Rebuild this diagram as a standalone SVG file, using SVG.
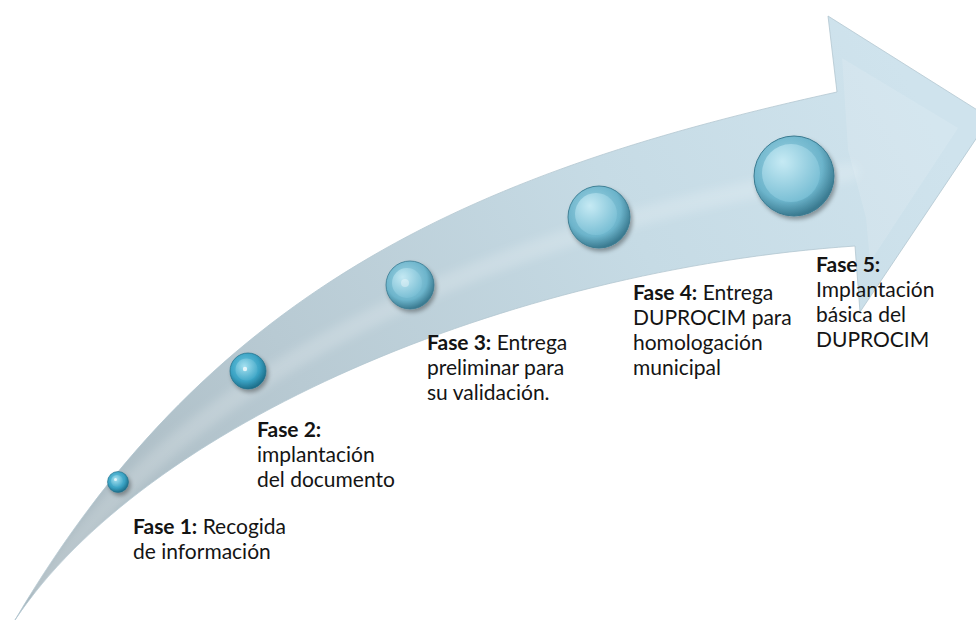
<svg xmlns="http://www.w3.org/2000/svg" width="976" height="622" viewBox="0 0 976 622">
<style>
.lbl{font-family:Lato,"Open Sans","Liberation Sans",sans-serif;font-size:21px;fill:#141414}
.b{font-weight:bold}
</style>
<defs>
<linearGradient id="arrowGrad" gradientUnits="userSpaceOnUse" x1="15" y1="620" x2="930" y2="120">
<stop offset="0" stop-color="#a6b5bc"/>
<stop offset="0.35" stop-color="#b8cad3"/>
<stop offset="0.7" stop-color="#c6dbe5"/>
<stop offset="1" stop-color="#cfe3ed"/>
</linearGradient>
<radialGradient id="rimA" cx="0.42" cy="0.38" r="0.62">
<stop offset="0" stop-color="#74cbe3"/>
<stop offset="0.65" stop-color="#3aa2c3"/>
<stop offset="1" stop-color="#1d6f8b"/>
</radialGradient>
<radialGradient id="coreA" cx="0.4" cy="0.35" r="0.7">
<stop offset="0" stop-color="#b5e8f5"/>
<stop offset="1" stop-color="#42a8c8"/>
</radialGradient>
<radialGradient id="rimB" cx="0.42" cy="0.38" r="0.62">
<stop offset="0" stop-color="#a5d7e6"/>
<stop offset="0.7" stop-color="#6cb4cb"/>
<stop offset="1" stop-color="#3a7a90"/>
</radialGradient>
<radialGradient id="coreB" cx="0.35" cy="0.3" r="0.75">
<stop offset="0" stop-color="#cdeef7"/>
<stop offset="1" stop-color="#79bfd5"/>
</radialGradient>
<filter id="shadow" x="-30%" y="-30%" width="170%" height="170%">
<feDropShadow dx="2" dy="3" stdDeviation="2" flood-color="#000" flood-opacity="0.35"/>
</filter>
<filter id="soft" x="-10%" y="-10%" width="120%" height="120%">
<feGaussianBlur stdDeviation="4"/>
</filter>
</defs>

<g id="connectors">
<path id="arrow" fill="url(#arrowGrad)" stroke="#b3c7d0" stroke-width="0.8" d="M15,620 C215,280 487,169 837,92 L828,16 L990,118 L860,312 L855,246 C505,270 145,425 15,620 Z"/>
<path fill="none" stroke="#ffffff" stroke-opacity="0.18" stroke-width="18" stroke-linecap="round" filter="url(#soft)" d="M40,590 C180,380 480,230 850,172"/>
<polygon points="842,58 958,128 870,262 866,218 848,150" fill="#ffffff" fill-opacity="0.12"/>
</g>

<g id="fase1">
<g filter="url(#shadow)">
<circle cx="118" cy="482" r="10.5" fill="url(#rimA)" stroke="#236f88" stroke-width="0.6"/>
</g>
<circle cx="117" cy="481" r="6" fill="url(#coreA)" opacity="0.8"/>
<circle cx="115.5" cy="479.5" r="1.5" fill="#ffffff" opacity="0.7"/>
<text class="lbl" x="133" y="534"><tspan class="b">Fase 1:</tspan> Recogida</text>
<text class="lbl" x="133" y="559">de información</text>
</g>

<g id="fase2">
<g filter="url(#shadow)">
<circle cx="248" cy="371" r="18" fill="url(#rimA)" stroke="#236f88" stroke-width="0.7"/>
</g>
<circle cx="246.5" cy="369.5" r="11" fill="url(#coreA)" opacity="0.75"/>
<circle cx="245" cy="369" r="2.2" fill="#ffffff" opacity="0.75"/>
<text class="lbl" x="257" y="437"><tspan class="b">Fase 2:</tspan></text>
<text class="lbl" x="257" y="462">implantación</text>
<text class="lbl" x="257" y="487">del documento</text>
</g>

<g id="fase3">
<g filter="url(#shadow)">
<circle cx="410" cy="285" r="24" fill="url(#rimB)" stroke="#3a7a90" stroke-width="0.8"/>
</g>
<circle cx="407" cy="283" r="15" fill="url(#coreB)" opacity="0.8"/>
<circle cx="405" cy="283" r="4" fill="#ffffff" opacity="0.35"/>
<text class="lbl" x="427" y="350"><tspan class="b">Fase 3:</tspan> Entrega</text>
<text class="lbl" x="427" y="375">preliminar para</text>
<text class="lbl" x="427" y="400">su validación.</text>
</g>

<g id="fase4">
<g filter="url(#shadow)">
<circle cx="599" cy="217" r="31" fill="url(#rimB)" stroke="#3a7a90" stroke-width="0.9"/>
</g>
<circle cx="596" cy="214" r="21" fill="url(#coreB)" opacity="0.85"/>
<text class="lbl" x="633" y="300"><tspan class="b">Fase 4:</tspan> Entrega</text>
<text class="lbl" x="633" y="325">DUPROCIM para</text>
<text class="lbl" x="633" y="350">homologación</text>
<text class="lbl" x="633" y="375">municipal</text>
</g>

<g id="fase5">
<g filter="url(#shadow)">
<circle cx="794" cy="176" r="40" fill="url(#rimB)" stroke="#3a7a90" stroke-width="1"/>
</g>
<circle cx="791" cy="173" r="29" fill="url(#coreB)" opacity="0.85"/>
<text class="lbl" x="816" y="272"><tspan class="b">Fase 5:</tspan></text>
<text class="lbl" x="816" y="297">Implantación</text>
<text class="lbl" x="816" y="322">básica del</text>
<text class="lbl" x="816" y="347">DUPROCIM</text>
</g>
</svg>
